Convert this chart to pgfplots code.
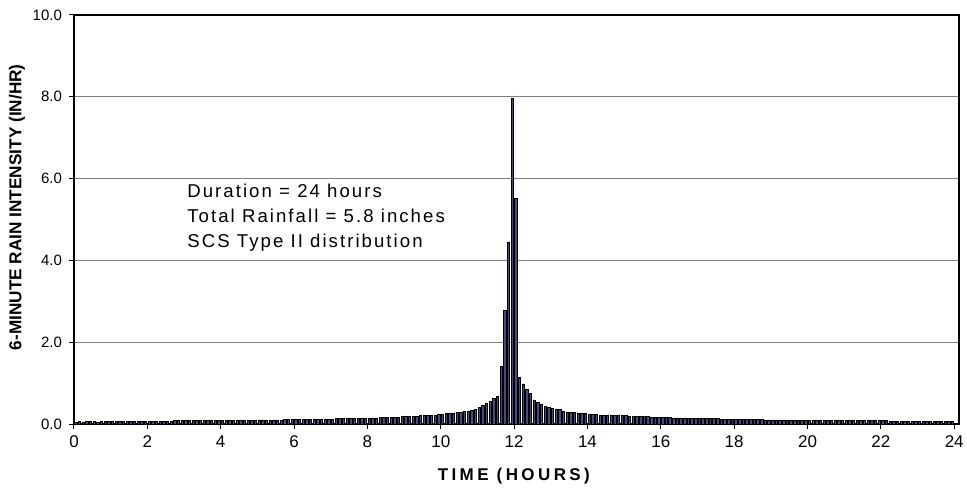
\documentclass[border=0pt]{standalone}
\usepackage{fontspec}
\setmainfont{Liberation Sans}
\usepackage{pgfplots}
\usepackage{pgfplotstable}
\pgfplotsset{compat=1.18}
\definecolor{barfill}{RGB}{72,72,132}
\definecolor{gridgray}{RGB}{128,128,128}

% 6-minute intensities (in/hr), 0.0-0.1 h first, ten per hour
\pgfplotstableread[row sep=\\]{
rate\\
0.04\\0.06\\0.05\\0.06\\0.06\\0.06\\0.05\\0.06\\0.06\\0.06\\
0.06\\0.06\\0.06\\0.06\\0.07\\0.06\\0.07\\0.07\\0.07\\0.07\\
0.07\\0.07\\0.07\\0.07\\0.07\\0.07\\0.07\\0.08\\0.08\\0.08\\
0.08\\0.08\\0.08\\0.08\\0.08\\0.08\\0.08\\0.08\\0.08\\0.09\\
0.09\\0.09\\0.09\\0.09\\0.09\\0.09\\0.09\\0.09\\0.10\\0.10\\
0.10\\0.10\\0.10\\0.10\\0.10\\0.10\\0.10\\0.11\\0.11\\0.11\\
0.11\\0.11\\0.11\\0.11\\0.11\\0.12\\0.12\\0.12\\0.12\\0.12\\
0.12\\0.13\\0.13\\0.13\\0.13\\0.13\\0.14\\0.14\\0.14\\0.14\\
0.15\\0.15\\0.15\\0.16\\0.16\\0.16\\0.17\\0.17\\0.17\\0.18\\
0.18\\0.18\\0.19\\0.19\\0.20\\0.20\\0.21\\0.21\\0.22\\0.23\\
0.24\\0.25\\0.26\\0.27\\0.28\\0.29\\0.30\\0.32\\0.34\\0.36\\
0.40\\0.45\\0.50\\0.55\\0.62\\0.67\\1.42\\2.78\\4.45\\7.97\\
5.52\\1.13\\0.98\\0.85\\0.74\\0.59\\0.52\\0.48\\0.43\\0.40\\
0.38\\0.36\\0.35\\0.30\\0.29\\0.28\\0.28\\0.27\\0.26\\0.25\\
0.24\\0.23\\0.23\\0.22\\0.22\\0.21\\0.21\\0.21\\0.20\\0.20\\
0.20\\0.19\\0.19\\0.19\\0.18\\0.18\\0.18\\0.17\\0.17\\0.17\\
0.16\\0.16\\0.16\\0.15\\0.15\\0.15\\0.15\\0.14\\0.14\\0.14\\
0.14\\0.13\\0.13\\0.13\\0.13\\0.13\\0.12\\0.12\\0.12\\0.12\\
0.12\\0.12\\0.11\\0.11\\0.11\\0.11\\0.11\\0.11\\0.10\\0.10\\
0.10\\0.10\\0.10\\0.10\\0.10\\0.10\\0.09\\0.09\\0.09\\0.09\\
0.09\\0.09\\0.09\\0.09\\0.09\\0.09\\0.09\\0.08\\0.08\\0.08\\
0.08\\0.08\\0.08\\0.08\\0.08\\0.08\\0.08\\0.08\\0.08\\0.08\\
0.08\\0.08\\0.07\\0.07\\0.07\\0.07\\0.07\\0.07\\0.07\\0.07\\
0.07\\0.07\\0.07\\0.07\\0.07\\0.07\\0.07\\0.07\\0.07\\0.07\\
}\rainsix

\begin{document}
\begin{tikzpicture}
\begin{axis}[
  at={(0,0)}, anchor=origin,
  scale only axis,
  width=442.5pt, height=204.5pt,
  xmin=0, xmax=24.13,
  ymin=0, ymax=10,
  xtick={0,2,...,24},
  ytick={0,2,...,10},
  ymajorgrids,
  grid style={gridgray, line width=0.6pt},
  axis line style={black, line width=0.6pt},
  tick align=outside, tick pos=left,
  major tick length=2.5pt,
  tick style={black, line width=0.5pt},
  /pgf/number format/assume math mode=true,
  yticklabel style={font=\fontsize{7.5}{8}\selectfont,
    /pgf/number format/.cd, fixed, fixed zerofill, precision=1},
  xticklabel style={font=\fontsize{8.5}{10}\selectfont},
  xlabel={TIME (HOURS)},
  ylabel={6-MINUTE RAIN INTENSITY (IN/HR)},
  xlabel style={at={(axis description cs:0.497,-0.127)}, anchor=center,
    font=\fontsize{8.5}{10}\selectfont\bfseries\addfontfeature{LetterSpace=20}},
  ylabel style={at={(axis description cs:-0.0644,0.53)}, anchor=center,
    font=\fontsize{8.6}{10}\selectfont\bfseries},
  ybar, bar width=0.065,
]
\addplot[draw=black, fill=barfill, line width=0.35pt]
  table[x expr={\coordindex*0.1+0.05}, y=rate] {\rainsix};
\node[anchor=north west, align=left, inner sep=0pt,
  font=\fontsize{9.3}{12.5}\selectfont\addfontfeature{LetterSpace=11}]
  at (axis cs:3.08,5.88) {Duration = 24 hours\\Total Rainfall = 5.8 inches\\SCS Type II distribution};
\end{axis}
\pgfresetboundingbox
\path (-37pt,-32pt) rectangle (446.5pt,212pt);
\end{tikzpicture}
\end{document}
